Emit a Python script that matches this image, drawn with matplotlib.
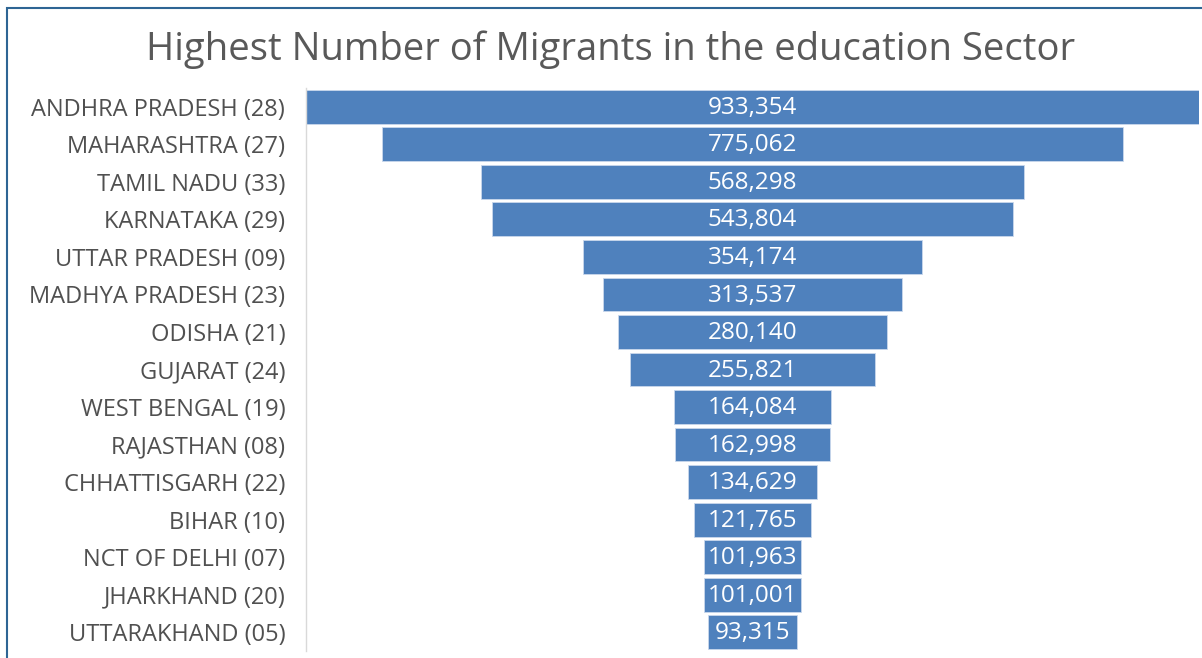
import matplotlib
matplotlib.use("Agg")
import matplotlib.pyplot as plt
from matplotlib.patches import Rectangle

states = ["ANDHRA PRADESH (28)", "MAHARASHTRA (27)", "TAMIL NADU (33)", "KARNATAKA (29)",
          "UTTAR PRADESH (09)", "MADHYA PRADESH (23)", "ODISHA (21)", "GUJARAT (24)",
          "WEST BENGAL (19)", "RAJASTHAN (08)", "CHHATTISGARH (22)", "BIHAR (10)",
          "NCT OF DELHI (07)", "JHARKHAND (20)", "UTTARAKHAND (05)"]
migrants = [933354, 775062, 568298, 543804, 354174, 313537, 280140, 255821,
            164084, 162998, 134629, 121765, 101963, 101001, 93315]
title = "Highest Number of Migrants in the education Sector"

W, H = 1202, 658
fig = plt.figure(figsize=(W / 100, H / 100), dpi=100)
fig.patch.set_facecolor("white")

# outer frame
fig.patches.append(Rectangle((7 / W, -0.1), 1.2, (H - 8) / H + 0.1, transform=fig.transFigure,
                             fill=False, edgecolor="#2e6594", linewidth=1.5, zorder=0))

ax = fig.add_axes([306 / W, (H - 651) / H, (1199 - 306) / W, (651 - 88) / H])
ys = list(range(len(states)))
half = [v / 2 for v in migrants]
ax.barh(ys, migrants, left=[-h for h in half], height=0.9, color="#4f81bd",
        edgecolor="#c9d8ec", linewidth=0.6)
vmax = max(migrants)
ax.set_xlim(-vmax / 2, vmax / 2)
ax.set_ylim(len(states) - 0.5, -0.5)
ax.set_yticks(ys)
ax.set_yticklabels(states, fontsize=17, color="#505050", family="Open Sans")
ax.tick_params(axis="y", length=0, pad=15)
ax.set_xticks([])
for s in ["top", "right", "bottom"]:
    ax.spines[s].set_visible(False)
ax.spines["left"].set_color("#d9d9d9")
ax.spines["left"].set_linewidth(1)

for y, v in zip(ys, migrants):
    ax.text(0, y + 0.03, f"{v:,}", ha="center", va="center", color="white", fontsize=17.5,
            family="Open Sans")

fig.text(611 / W, 1 - 50 / H, title, ha="center", va="center", fontsize=27.5,
         color="#595959", family="Open Sans")

fig.savefig("out.png", dpi=100)
